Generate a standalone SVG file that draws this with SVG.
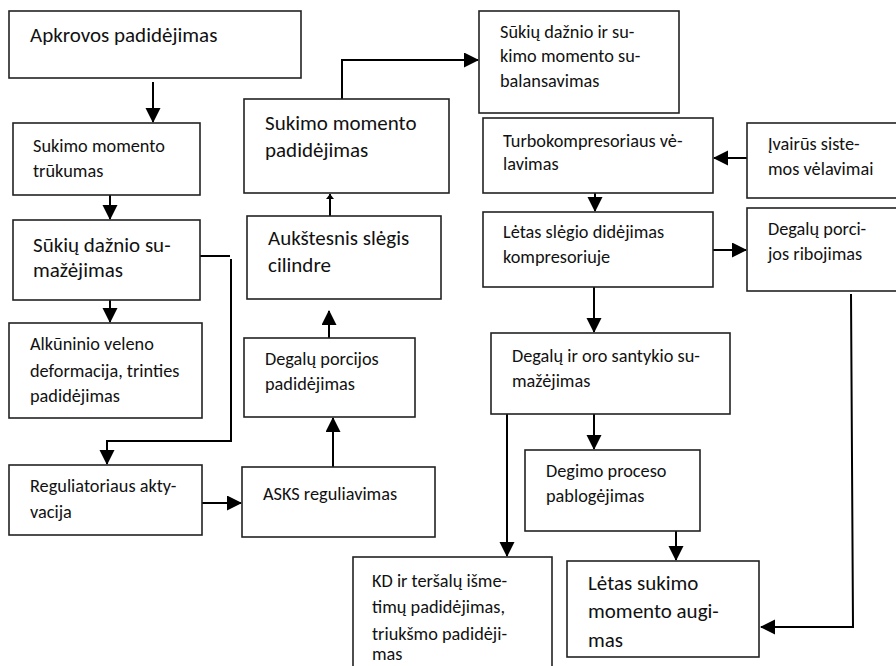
<svg xmlns="http://www.w3.org/2000/svg" width="896" height="666" viewBox="0 0 896 666">
<style>
rect.box{fill:#fff;stroke:#222;stroke-width:1.6}
text{font-family:Carlito,Lato,"Open Sans",sans-serif;fill:#111}
.m{font-size:18.3px}
.l{font-size:21px}
.c{fill:none;stroke:#000;stroke-width:2}
</style>
<defs>
<marker id="ah" markerUnits="userSpaceOnUse" markerWidth="16" markerHeight="16" refX="14" refY="7.5" orient="auto">
<path d="M0,0 L15,7.5 L0,15 z" fill="#000"/>
</marker>
<marker id="ahs" markerUnits="userSpaceOnUse" markerWidth="10" markerHeight="10" refX="5" refY="4" orient="auto">
<path d="M0,0 L5,4 L0,8 z" fill="#000"/>
</marker>
</defs>
<rect width="896" height="666" fill="#fff"/>
<g id="connectors">
<path class="c" d="M153,82 V122" marker-end="url(#ah)"/>
<path class="c" d="M110,195 V219" marker-end="url(#ah)"/>
<path class="c" d="M110,300 V322" marker-end="url(#ah)"/>
<path class="c" d="M200,256 H230"/>
<path class="c" d="M231,259 V441 H107 V464" marker-end="url(#ah)"/>
<path class="c" d="M202,503 H241" marker-end="url(#ah)"/>
<path class="c" d="M333,467 V418" marker-end="url(#ah)"/>
<path class="c" d="M329,338 V311" marker-end="url(#ah)"/>
<path class="c" d="M330,216 V194" marker-end="url(#ahs)"/>
<path class="c" d="M342,99 V60 H478" marker-end="url(#ah)"/>
<path class="c" d="M747,158 H714" marker-end="url(#ah)"/>
<path class="c" d="M595,193 V211" marker-end="url(#ah)"/>
<path class="c" d="M713,250 H746" marker-end="url(#ah)"/>
<path class="c" d="M594,287 V332" marker-end="url(#ah)"/>
<path class="c" d="M507,414 V556" marker-end="url(#ah)"/>
<path class="c" d="M594,414 V449" marker-end="url(#ah)"/>
<path class="c" d="M676,531 V560" marker-end="url(#ah)"/>
<path class="c" d="M851,294 L853,627 H761" marker-end="url(#ah)"/>
</g>
<g id="n1"><rect class="box" x="9" y="11" width="292" height="67"/><text class="l" x="30" y="42">Apkrovos padidėjimas</text></g>
<g id="n2"><rect class="box" x="13" y="123" width="187" height="72"/><text class="m" x="33" y="152">Sukimo momento</text><text class="m" x="33" y="177">trūkumas</text></g>
<g id="n3"><rect class="box" x="13" y="220" width="187" height="80"/><text class="l" x="33" y="252">Sūkių dažnio su-</text><text class="l" x="33" y="277">mažėjimas</text></g>
<g id="n4"><rect class="box" x="9" y="323" width="193" height="95"/><text class="m" x="30" y="350">Alkūninio veleno</text><text class="m" x="30" y="377">deformacija, trinties</text><text class="m" x="30" y="402">padidėjimas</text></g>
<g id="n5"><rect class="box" x="9" y="465" width="193" height="70"/><text class="m" x="30" y="492">Reguliatoriaus akty-</text><text class="m" x="30" y="518">vacija</text></g>
<g id="n6"><rect class="box" x="242" y="467" width="193" height="70"/><text class="m" x="263" y="500">ASKS reguliavimas</text></g>
<g id="n7"><rect class="box" x="244" y="338" width="171" height="79"/><text class="m" x="265" y="365">Degalų porcijos</text><text class="m" x="265" y="390">padidėjimas</text></g>
<g id="n8"><rect class="box" x="247" y="216" width="194" height="83"/><text class="l" x="268" y="245">Aukštesnis slėgis</text><text class="l" x="268" y="272">cilindre</text></g>
<g id="n9"><rect class="box" x="244" y="99" width="205" height="94"/><text class="l" x="265" y="130">Sukimo momento</text><text class="l" x="265" y="157">padidėjimas</text></g>
<g id="n10"><rect class="box" x="479" y="11" width="200" height="102"/><text class="m" x="500" y="38">Sūkių dažnio ir su-</text><text class="m" x="500" y="62">kimo momento su-</text><text class="m" x="500" y="87">balansavimas</text></g>
<g id="n11"><rect class="box" x="483" y="118" width="230" height="75"/><text class="m" x="503" y="147">Turbokompresoriaus vė-</text><text class="m" x="503" y="170">lavimas</text></g>
<g id="n12"><rect class="box" x="747" y="123" width="160" height="75"/><text class="m" x="768" y="150">Įvairūs siste-</text><text class="m" x="768" y="175">mos vėlavimai</text></g>
<g id="n13"><rect class="box" x="483" y="212" width="230" height="75"/><text class="m" x="503" y="238">Lėtas slėgio didėjimas</text><text class="m" x="503" y="263">kompresoriuje</text></g>
<g id="n14"><rect class="box" x="747" y="208" width="160" height="83"/><text class="m" x="768" y="235">Degalų porci-</text><text class="m" x="768" y="260">jos ribojimas</text></g>
<g id="n15"><rect class="box" x="491" y="333" width="239" height="81"/><text class="m" x="512" y="362">Degalų ir oro santykio su-</text><text class="m" x="512" y="387">mažėjimas</text></g>
<g id="n16"><rect class="box" x="525" y="450" width="175" height="81"/><text class="m" x="546" y="477">Degimo proceso</text><text class="m" x="546" y="502">pablogėjimas</text></g>
<g id="n17"><rect class="box" x="567" y="561" width="192" height="96"/><text class="l" x="588" y="590">Lėtas sukimo</text><text class="l" x="588" y="618">momento augi-</text><text class="l" x="588" y="647">mas</text></g>
<g id="n18"><rect class="box" x="353" y="557" width="199" height="130"/><text class="m" x="372" y="587">KD ir teršalų išme-</text><text class="m" x="372" y="613">timų padidėjimas,</text><text class="m" x="372" y="640">triukšmo padidėji-</text><text class="m" x="372" y="660">mas</text></g>
</svg>
